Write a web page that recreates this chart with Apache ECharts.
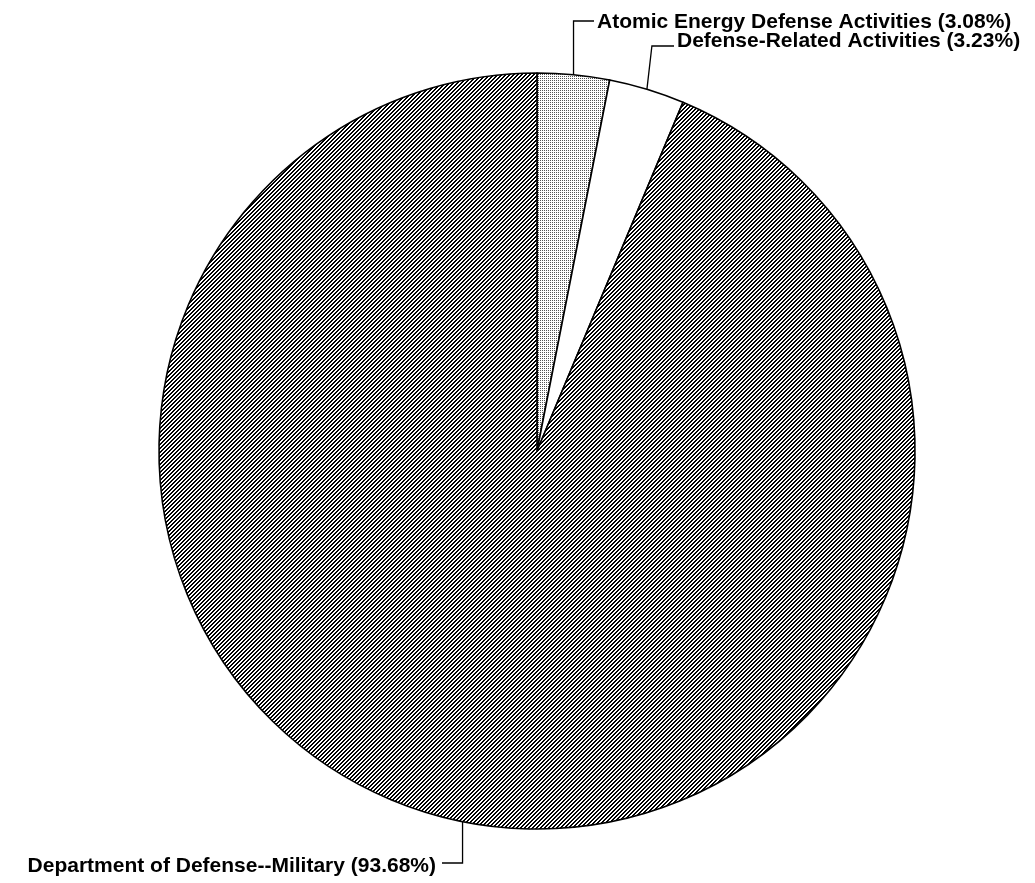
<!DOCTYPE html>
<html>
<head>
<meta charset="utf-8">
<script src="https://cdn.jsdelivr.net/npm/echarts@6/dist/echarts.min.js"></script>
<style>
html,body{margin:0;padding:0;background:#fff;}
#chart{width:1035px;height:883px;}
</style>
</head>
<body>
<div id="chart"></div>
<script>
// Data
const categories = ['Atomic Energy Defense Activities', 'Defense-Related Activities', 'Department of Defense--Military'];
const shares = [3.08, 3.23, 93.68];

function makeHatch() {
  const c = document.createElement('canvas');
  c.width = 4; c.height = 4;
  const ctx = c.getContext('2d');
  ctx.fillStyle = '#fff'; ctx.fillRect(0, 0, 4, 4);
  ctx.fillStyle = '#000';
  for (let y = 0; y < 4; y++) {
    ctx.fillRect((3 - y), y, 1, 1);
    ctx.fillRect((4 - y) % 4, y, 1, 1);
  }
  return c;
}
function makeDots() {
  const c = document.createElement('canvas');
  c.width = 2; c.height = 2;
  const ctx = c.getContext('2d');
  ctx.fillStyle = '#fff'; ctx.fillRect(0, 0, 2, 2);
  ctx.fillStyle = '#555';
  ctx.fillRect(0, 0, 1, 1);
  return c;
}
const fills = [
  { image: makeDots(), repeat: 'repeat' },
  '#ffffff',
  { image: makeHatch(), repeat: 'repeat' }
];

const chart = echarts.init(document.getElementById('chart'));
const labelPos = [
  { x: 597, y: 22, lineY: 21, align: 'left', dx: 0 },
  { x: 677, y: 41, lineY: 46, align: 'left', dx: 5 },
  { x: 436, y: 866, lineY: 863, align: 'right', dx: 0 }
];

chart.setOption({
  animation: false,
  series: [{
    type: 'pie',
    center: [537, 451],
    radius: 378,
    startAngle: 90,
    clockwise: true,
    data: categories.map((n, i) => ({
      name: n,
      value: shares[i],
      itemStyle: { color: fills[i] }
    })),
    itemStyle: { borderColor: '#000', borderWidth: 1.6 },
    label: {
      show: true,
      overflow: 'none',
      formatter: (p) => p.name + ' (' + shares[p.dataIndex].toFixed(2) + '%)',
      fontFamily: 'Liberation Sans, Arial, sans-serif',
      fontWeight: 'bold',
      fontSize: 21,
      color: '#000'
    },
    labelLine: { show: true, lineStyle: { color: '#000', width: 1.3 } },
    labelLayout: function (params) {
      const L = labelPos[params.dataIndex];
      const pts = params.labelLinePoints;
      const start = pts ? pts[0] : [L.x, L.lineY];
      const bend = [start[0] + L.dx, L.lineY];
      const endX = L.align === 'left' ? L.x - 3 : L.x + 6;
      return {
        x: L.x,
        y: L.y,
        align: L.align,
        verticalAlign: 'middle',
        width: 600,
        labelLinePoints: [start, bend, [endX, L.lineY]]
      };
    },
    emphasis: { disabled: true }
  }]
});
</script>
</body>
</html>
